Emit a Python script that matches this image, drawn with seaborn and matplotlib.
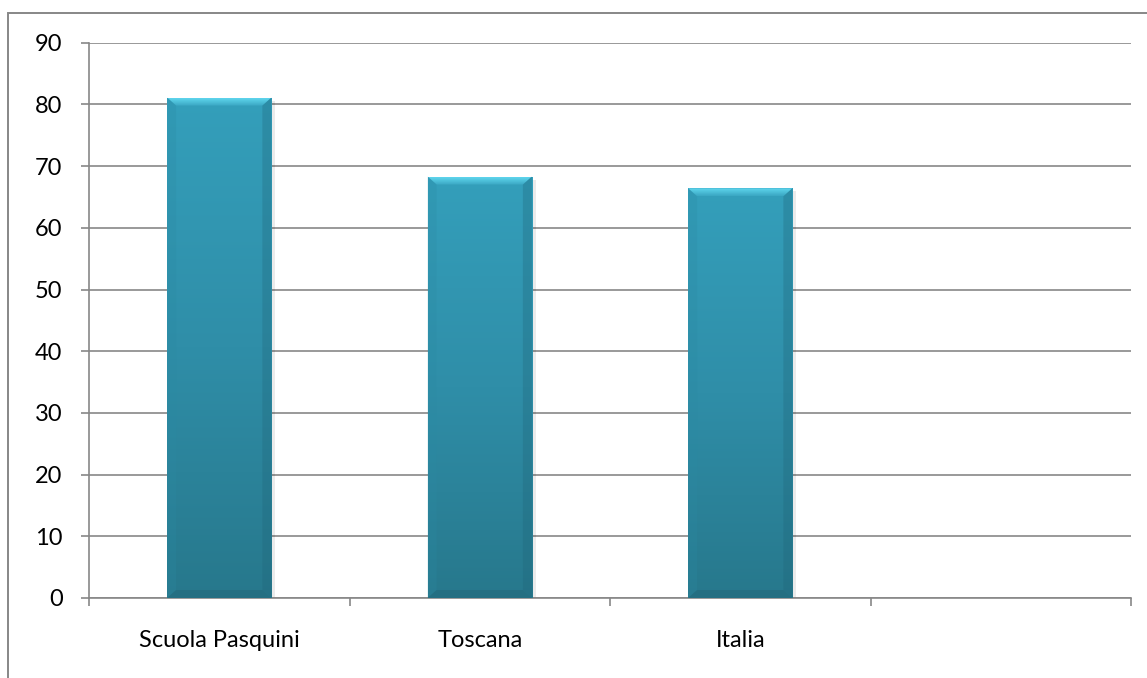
import numpy as np
import pandas as pd
import matplotlib
matplotlib.use("Agg")
import matplotlib.pyplot as plt
import matplotlib.patches as mpatches
from matplotlib.colors import LinearSegmentedColormap
import seaborn as sns

categories = ["Scuola Pasquini", "Toscana", "Italia"]
values = [81.1, 68.3, 66.4]
n_slots = 4
y_ticks = [0, 10, 20, 30, 40, 50, 60, 70, 80, 90]

sns.set_theme(style="white")
plt.rcParams['font.family'] = ['Lato', 'DejaVu Sans']

grey = "#878787"
fig = plt.figure(figsize=(11.47, 6.78), dpi=100)
ax = fig.add_axes([89/1147, 1-598/678, (1131-89)/1147, (598-42.7)/678])

df = pd.DataFrame({"cat": categories, "val": values})
sns.barplot(data=df, x="cat", y="val", ax=ax, color="#3199b5", width=0.4,
            saturation=1, edgecolor="none", zorder=3)

ax.set_xlim(-0.5, n_slots - 0.5)
ax.set_ylim(0, 90)
ax.set_yticks(y_ticks)
ax.set_yticklabels([str(t) for t in y_ticks])
ax.yaxis.grid(True, color=grey, linewidth=1.2, zorder=0)
ax.set_axisbelow(True)
ax.set_xlabel("")
ax.set_ylabel("")

ax.set_xticks(np.arange(-0.5, n_slots, 1.0))
ax.set_xticklabels([""] * (n_slots + 1))
ax.set_xticks(np.arange(len(categories)), minor=True)
ax.set_xticklabels(categories, minor=True)
ax.tick_params(axis="x", which="major", direction="out", length=6, width=1.2, color=grey, bottom=True)
ax.tick_params(axis="x", which="minor", length=0, pad=23, labelsize=17, labelcolor="black")
ax.tick_params(axis="y", direction="out", length=6, width=1.2, color=grey, left=True, pad=13,
               labelsize=17, labelcolor="black")

for s in ["top", "right"]:
    ax.spines[s].set_visible(False)
for s in ["left", "bottom"]:
    ax.spines[s].set_color(grey)
    ax.spines[s].set_linewidth(1.2)

grad = np.linspace(0, 1, 256).reshape(-1, 1)
cmap = LinearSegmentedColormap.from_list("barg", ["#27788c", "#2f8ea8", "#349fbb"])
top_cmap = LinearSegmentedColormap.from_list("topg", ["#3aa6c2", "#5fd6ee"])
px_y = 90 / (598 - 42.7)
px_x = n_slots / (1131 - 89)
for p in ax.patches:
    x0, y0 = p.get_x(), p.get_y()
    w, h = p.get_width(), p.get_height()
    if not np.isfinite(h) or h <= 0:
        continue
    sh = mpatches.Rectangle((x0 + 2*px_x, y0), w + 2*px_x, h - 3*px_y, color="#000000",
                            alpha=0.08, zorder=2, linewidth=0)
    ax.add_patch(sh)
    im = ax.imshow(grad, extent=(x0, x0 + w, y0, y0 + h), origin="lower", cmap=cmap,
                   aspect="auto", zorder=3.1)
    im.set_clip_path(p)
    bx, by = 9 * px_x, 8 * px_y
    top = mpatches.Polygon([(x0, y0 + h), (x0 + w, y0 + h), (x0 + w - bx, y0 + h - by),
                            (x0 + bx, y0 + h - by)], closed=True, facecolor="none",
                           edgecolor="none", zorder=3.2)
    ax.add_patch(top)
    tim = ax.imshow(grad, extent=(x0, x0 + w, y0 + h - by, y0 + h), origin="lower",
                    cmap=top_cmap, aspect="auto", zorder=3.2)
    tim.set_clip_path(top)
    left = mpatches.Polygon([(x0, y0 + h), (x0 + bx, y0 + h - by), (x0 + bx, y0 + by), (x0, y0)],
                            closed=True, facecolor="#2b8aa3", edgecolor="none", zorder=3.2, alpha=0.25)
    ax.add_patch(left)
    right = mpatches.Polygon([(x0 + w, y0 + h), (x0 + w - bx, y0 + h - by), (x0 + w - bx, y0 + by),
                              (x0 + w, y0)], closed=True, facecolor="#1f6478", edgecolor="none",
                             zorder=3.2, alpha=0.3)
    ax.add_patch(right)
    bottom = mpatches.Polygon([(x0, y0), (x0 + w, y0), (x0 + w - bx, y0 + by), (x0 + bx, y0 + by)],
                              closed=True, facecolor="#246f82", edgecolor="none", zorder=3.2)
    ax.add_patch(bottom)

ax.set_xlim(-0.5, n_slots - 0.5)
ax.set_ylim(0, 90)

border = mpatches.Rectangle((8/1147, -0.1), 1.2, 0.1 + (1 - 13/678), transform=fig.transFigure,
                            fill=False, edgecolor=grey, linewidth=1.4)
fig.patches.append(border)

fig.savefig("out.png", dpi=100, facecolor="white")
